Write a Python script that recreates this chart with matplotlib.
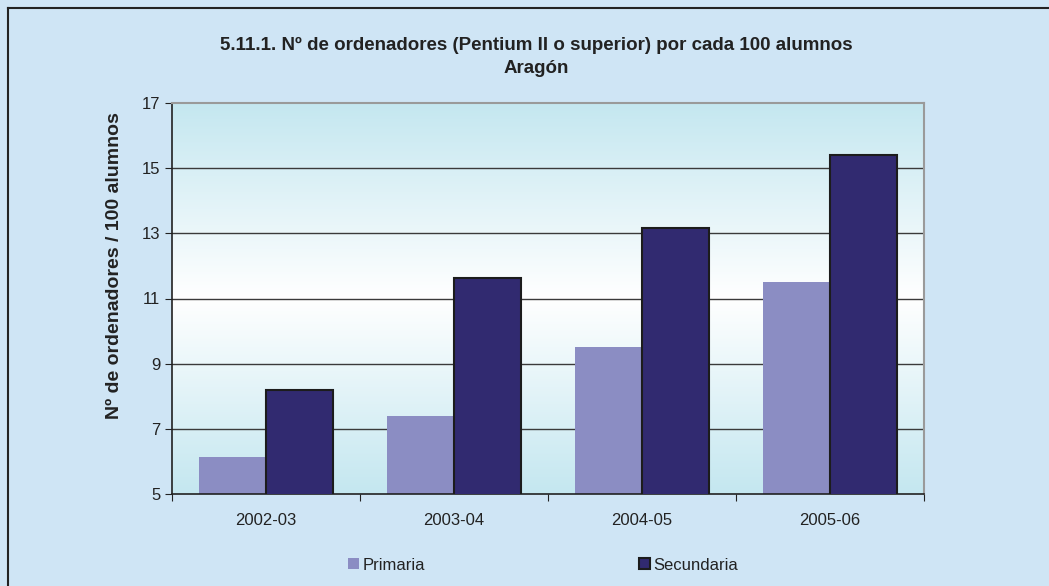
import numpy as np
import matplotlib
matplotlib.use('Agg')
import matplotlib.pyplot as plt
from matplotlib.colors import LinearSegmentedColormap
from matplotlib.lines import Line2D

plt.rcParams['font.family'] = ['Liberation Sans', 'DejaVu Sans']

# datos
cursos = ['2002-03', '2003-04', '2004-05', '2005-06']
primaria = [6.13, 7.39, 9.51, 11.5]
secundaria = [8.19, 11.62, 13.17, 15.39]
yticks = [5, 7, 9, 11, 13, 15, 17]

titulo = '5.11.1. Nº de ordenadores (Pentium II o superior) por cada 100 alumnos\nAragón'
etiqueta_y = 'Nº de ordenadores / 100 alumnos'

fig = plt.figure(figsize=(10.49, 5.86), dpi=100)
fig.patch.set_facecolor('#cfe5f5')

# marco superior e izquierdo
fig.add_artist(Line2D([8 / 1049, 1], [1 - 8 / 586, 1 - 8 / 586], color='#222222', lw=1.5,
                      transform=fig.transFigure))
fig.add_artist(Line2D([8 / 1049, 8 / 1049], [0, 1 - 8 / 586], color='#222222', lw=1.5,
                      transform=fig.transFigure))

ax = fig.add_axes([172 / 1049, 92 / 586, 752 / 1049, 391 / 586])

x = np.arange(len(cursos))
ax.set_xlim(-0.5, len(cursos) - 0.5)
ax.set_ylim(5, 17)

# fondo degradado del area de trazado
cmap = LinearSegmentedColormap.from_list('fondo', ['#c4e7f0', '#ffffff', '#c4e7f0'])
grad = np.linspace(0, 1, 256).reshape(-1, 1)
ax.imshow(grad, cmap=cmap, aspect='auto', extent=(-0.5, len(cursos) - 0.5, 5, 17),
          zorder=0, origin='lower')

for v in yticks[1:-1]:
    ax.axhline(v, color='#3a3a3a', lw=1, zorder=1)

w = 0.356
ax.bar(x - w / 2, primaria, w, color='#8b8dc3', zorder=2, label='Primaria')
ax.bar(x + w / 2, secundaria, w, color='#312a70', edgecolor='#1c1c1c', lw=1.5,
       zorder=3, label='Secundaria')
ax.set_ylim(5, 17)

ax.set_yticks(yticks)
ax.set_xticks(np.arange(len(cursos) + 1) - 0.5)
ax.set_xticklabels([])
ax.set_xticks(x, minor=True)
ax.set_xticklabels(cursos, minor=True)
ax.tick_params(axis='x', which='minor', length=0, pad=14, labelsize=12, labelcolor='#222222')
ax.tick_params(axis='x', which='major', direction='out', length=5, color='#222222')
ax.tick_params(axis='y', direction='out', length=5, labelsize=12, labelcolor='#222222',
               color='#222222')

for s in ['left', 'bottom']:
    ax.spines[s].set_color('#222222')
    ax.spines[s].set_linewidth(1.2)
for s in ['top', 'right']:
    ax.spines[s].set_color('#9a9a9a')
    ax.spines[s].set_linewidth(1.5)

ax.set_ylabel(etiqueta_y, fontsize=14, fontweight='bold', color='#222222')
ax.yaxis.set_label_coords(-0.065, 0.584)
fig.text(0.511, 1 - 57 / 586, titulo, ha='center', va='center', fontsize=13.5,
         fontweight='bold', color='#222222', linespacing=1.45)

fig.legend(loc='center', bbox_to_anchor=(543 / 1049, 21 / 586), ncol=2, frameon=False,
           fontsize=12, handlelength=0.66, handleheight=0.66, handletextpad=0.2,
           columnspacing=12.8, labelcolor='#222222')

fig.savefig('out.png', dpi=100, facecolor=fig.get_facecolor())
